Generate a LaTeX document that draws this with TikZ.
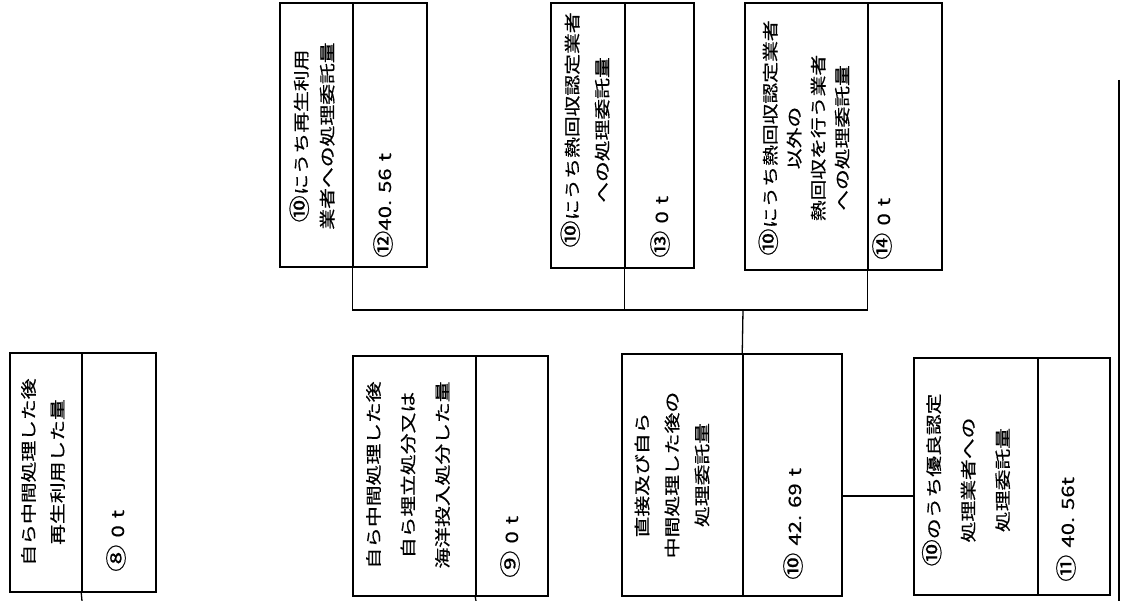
\documentclass[tikz,border=0pt]{standalone}
\usepackage{fontspec}
\newfontfamily\jp{Noto Sans CJK JP}[FakeStretch=1.3, FakeBold=0.6]
\newcommand\cnum[1]{{\fontsize{21}{21}\selectfont #1}}
\newcommand\gp{\hspace{7pt}}
\usetikzlibrary{fit}

\begin{document}
\begin{tikzpicture}[x=1pt, y=-1pt,
    sec/.style={draw, line width=1.5pt, inner sep=0pt},
    lbl/.style={rotate=90, align=center, inner sep=0pt},
    val/.style={rotate=90, anchor=west, inner sep=0pt, font=\jp\fontsize{17}{17}\selectfont},
    wire/.style={line width=1.3pt}]

    % --- Page frame ---
    \useasboundingbox (0,0) rectangle (1122,601);

    % --- Lower row: heading part and value part of each box ---
    \node[sec, fit={(10,353) (82,592)}]    (h8)  {};
    \node[sec, fit={(82,353) (156,592)}]   (v8)  {};
    \node[sec, fit={(353,356) (476,596)}]  (h9)  {};
    \node[sec, fit={(476,356) (548,596)}]  (v9)  {};
    \node[sec, fit={(622,354) (743,596)}]  (h10) {};
    \node[sec, fit={(743,354) (842,596)}]  (v10) {};
    \node[sec, fit={(914,358) (1038,595)}] (h11) {};
    \node[sec, fit={(1038,358) (1110,595)}] (v11) {};

    % --- Upper row ---
    \node[sec, fit={(280,3) (353,267)}]    (h12) {};
    \node[sec, fit={(353,3) (427,267)}]    (v12) {};
    \node[sec, fit={(551,3) (625,268)}]    (h13) {};
    \node[sec, fit={(625,3) (694,268)}]    (v13) {};
    \node[sec, fit={(745,3) (868,270)}]    (h14) {};
    \node[sec, fit={(868,3) (942,270)}]    (v14) {};

    % --- Headings ---
    \node[lbl, font=\jp\fontsize{16}{29}\selectfont] (t8) at (43,472)
        {自ら中間処理した後\\再生利用した量};
    \node[lbl, font=\jp\fontsize{16}{34.5}\selectfont] (t9) at (408,475)
        {自ら中間処理した後\\自ら埋立処分又は\\海洋投入処分した量};
    \node[lbl, font=\jp\fontsize{16}{30}\selectfont] (t10) at (672,475)
        {直接及び自ら\\中間処理した後の\\処理委託量};
    \node[lbl, font=\jp\fontsize{16}{34.5}\selectfont] (t11) at (966,480)
        {\cnum{⑩}のうち優良認定\\処理業者への\\処理委託量};
    \node[lbl, font=\jp\fontsize{16}{26}\selectfont] (t12) at (312,136)
        {\cnum{⑩}にうち再生利用\\業者への処理委託量};
    \node[lbl, font=\jp\fontsize{16}{30}\selectfont] (t13) at (585,130)
        {\cnum{⑩}にうち熱回収認定業者\\への処理委託量};
    \node[lbl, font=\jp\fontsize{16}{24}\selectfont] (t14) at (804,138)
        {\cnum{⑩}にうち熱回収認定業者\\以外の\\熱回収を行う業者\\への処理委託量};

    % --- Amounts ---
    \node[val] (n8)  at (116,572)  {\cnum{⑧}\gp 0\gp t};
    \node[val] (n9)  at (510,578)  {\cnum{⑨}\gp 0\gp t};
    \node[val] (n10) at (793,580)  {\cnum{⑩}\gp 42.\gp 69\gp t};
    \node[val] (n11) at (1066,582) {\cnum{⑪}\gp 40.\gp 56t};
    \node[val] (n12) at (383,258)  {\cnum{⑫}40.\gp 56\gp t};
    \node[val] (n13) at (660,258)  {\cnum{⑬}\gp 0\gp t};
    \node[val] (n14) at (882,260)  {\cnum{⑭}\gp 0\gp t};

    % --- Connectors ---
    \coordinate (bus) at (743,310);
    \coordinate (c11) at (842,496);
    \draw[wire] (v12.south west) |- (bus) -| (v14.south west);
    \draw[wire] (v13.south west) -- (v13.south west |- bus);
    \draw[wire] (bus) -- (v10.north west);
    \draw[wire] (c11) -- (c11 -| h11.west);

    % --- Stubs leaving the page ---
    \coordinate (e8) at (82,601);
    \coordinate (e9) at (476,601);
    \draw[wire] (v8.south west) -- (e8);
    \draw[wire] (v9.south west) -- (e9);
    \coordinate (r1) at (1119,80);
    \coordinate (r2) at (1119,601);
    \draw[wire] (r1) -- (r2);

\end{tikzpicture}
\end{document}
